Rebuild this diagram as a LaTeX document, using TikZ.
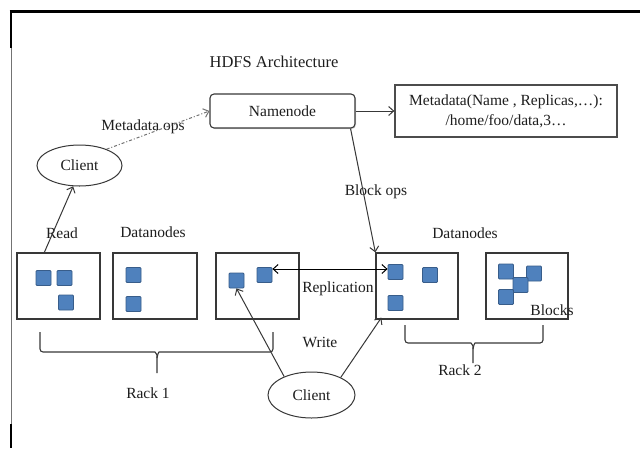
\documentclass[tikz,border=0pt]{standalone}
\usepackage{fontspec}
\setmainfont{Liberation Serif}
\usetikzlibrary{arrows.meta,calc,shadows,shapes.geometric}
\definecolor{blkfill}{HTML}{4F81BD}
\definecolor{blkdraw}{HTML}{385D8A}
\definecolor{ink}{HTML}{1E1E1E}
\definecolor{wire}{HTML}{383838}
\begin{document}
\begin{tikzpicture}[x=1pt,y=-1pt,
  every node/.style={text=ink,font=\fontsize{15.5}{17}\selectfont},
  label/.style={inner sep=0pt},
  dnode/.style={draw=wire,line width=1.3pt,minimum height=66pt,inner sep=0pt},
  blk/.style={draw=blkdraw,fill=blkfill,line width=0.8pt,rounded corners=1pt,minimum size=15pt,inner sep=0pt},
  client/.style={ellipse,draw=wire,line width=1pt,inner sep=0pt},
  conn/.style={draw=wire,line width=1pt,-{Straight Barb[length=5pt,width=9pt]}},
  rack/.style={draw=wire,line width=1.1pt,rounded corners=3pt}]
\useasboundingbox (0,0) rectangle (640,448);
\fill[white] (0,0) rectangle (640,448);

% page frame
\draw[line width=3pt] (9.5,11.3) -- (640,11.3);
\draw[line width=2.5pt] (11,10) -- (11,48);
\draw[black!55,line width=1pt] (11,48) -- (11,424);
\draw[line width=2.5pt] (11,424) -- (11,448);

% title
\node[label,font=\fontsize{16.5}{18}\selectfont] (title) at (274,62) {HDFS Architecture};

% namenode and metadata
\node[draw=wire,line width=1.1pt,rounded corners=4pt,minimum width=145pt,minimum height=34pt,fill=white,
      drop shadow={shadow xshift=1pt,shadow yshift=-1pt,fill=black!30}] (nn) at (282.5,111) {Namenode};
\node[draw=black!70,line width=1.3pt,minimum width=222pt,minimum height=52pt,fill=white,align=center,
      drop shadow={shadow xshift=1.2pt,shadow yshift=-1.2pt,fill=black!35},
      font=\fontsize{15.5}{20}\selectfont] (meta) at (506,111)
      {Metadata(Name , Replicas,\ldots):\\/home/foo/data,3\ldots};

% clients
\node[client,minimum width=85pt,minimum height=41pt] (cl1) at (79.5,165.5) {Client};
\node[client,minimum width=87pt,minimum height=46pt] (cl2) at (311.5,395) {Client};

% datanodes of rack 1
\node[dnode,minimum width=83pt] (d11) at (58.5,286) {};
\node[dnode,minimum width=84pt] (d12) at (155,286) {};
\node[dnode,minimum width=83pt] (d13) at (257.5,286) {};
% datanodes of rack 2
\node[dnode,minimum width=82pt] (d21) at (417,286) {};
\node[dnode,minimum width=82pt] (d22) at (527,286) {};

% blocks
\node[blk] (b11) at (43.5,278) {};
\node[blk] (b12) at (64.5,278) {};
\node[blk] (b13) at (66,302.5) {};
\node[blk] (b21) at (133.5,275) {};
\node[blk] (b22) at (133.5,304) {};
\node[blk] (b31) at (236.5,280.5) {};
\node[blk] (b32) at (264.5,275) {};
\node[blk] (r11) at (395.5,272) {};
\node[blk] (r12) at (430,275) {};
\node[blk] (r13) at (395.5,303) {};
\node[blk] (r21) at (506,271.5) {};
\node[blk] (r22) at (534,273.5) {};
\node[blk] (r23) at (520.5,285) {};
\node[blk] (r24) at (506,297) {};

% labels
\node[label] (lmo) at (143,127) {Metadata ops};
\node[label] (lbo) at (376,192) {Block ops};
\node[label] (lrd) at (62,233) {Read};
\node[label] (ldn1) at (153,232) {Datanodes};
\node[label] (ldn2) at (465,233) {Datanodes};
\node[label] (lrep) at (338,289) {Replication};
\node[label] (lwr) at (320,342) {Write};
\node[label] (lblk) at (552,310) {Blocks};
\node[label] (lr1) at (148,393) {Rack 1};
\node[label] (lr2) at (460,370) {Rack 2};

% connectors
\draw[conn,dash pattern=on 3pt off 2pt on 1pt off 2pt,draw=black!55] (cl1.31) -- (nn.west);
\draw[conn] (nn.east) -- (meta.west);
\draw[conn] ([xshift=-5pt]nn.south east) -- (d21.north west);
\draw[conn] ([xshift=28pt]d11.north west) -- (cl1.-107);
\draw[conn] (cl2.146) -- (b31.south);
\draw[conn] (cl2.31) -- ([xshift=6pt,yshift=2pt]d21.south west);
\draw[line width=1pt,draw=black,{Straight Barb[length=5pt,width=9pt]}-{Straight Barb[length=5pt,width=9pt]}]
  ([yshift=6pt]b32.east) -- ([yshift=6pt]b32.east -| r11.west);

% rack braces
\coordinate (k1) at (157,352);
\draw[rack] (40,332) |- ([xshift=-5pt]k1) to[out=0,in=90] ([yshift=-6pt]k1) -- (157,373);
\draw[rack] (273,332) |- ([xshift=5pt]k1) to[out=180,in=90] ([yshift=-6pt]k1);
\coordinate (k2) at (473,343);
\draw[rack] (405,325) |- ([xshift=-5pt]k2) to[out=0,in=90] ([yshift=-6pt]k2) -- (473,363);
\draw[rack] (543,325) |- ([xshift=5pt]k2) to[out=180,in=90] ([yshift=-6pt]k2);
\end{tikzpicture}
\end{document}
